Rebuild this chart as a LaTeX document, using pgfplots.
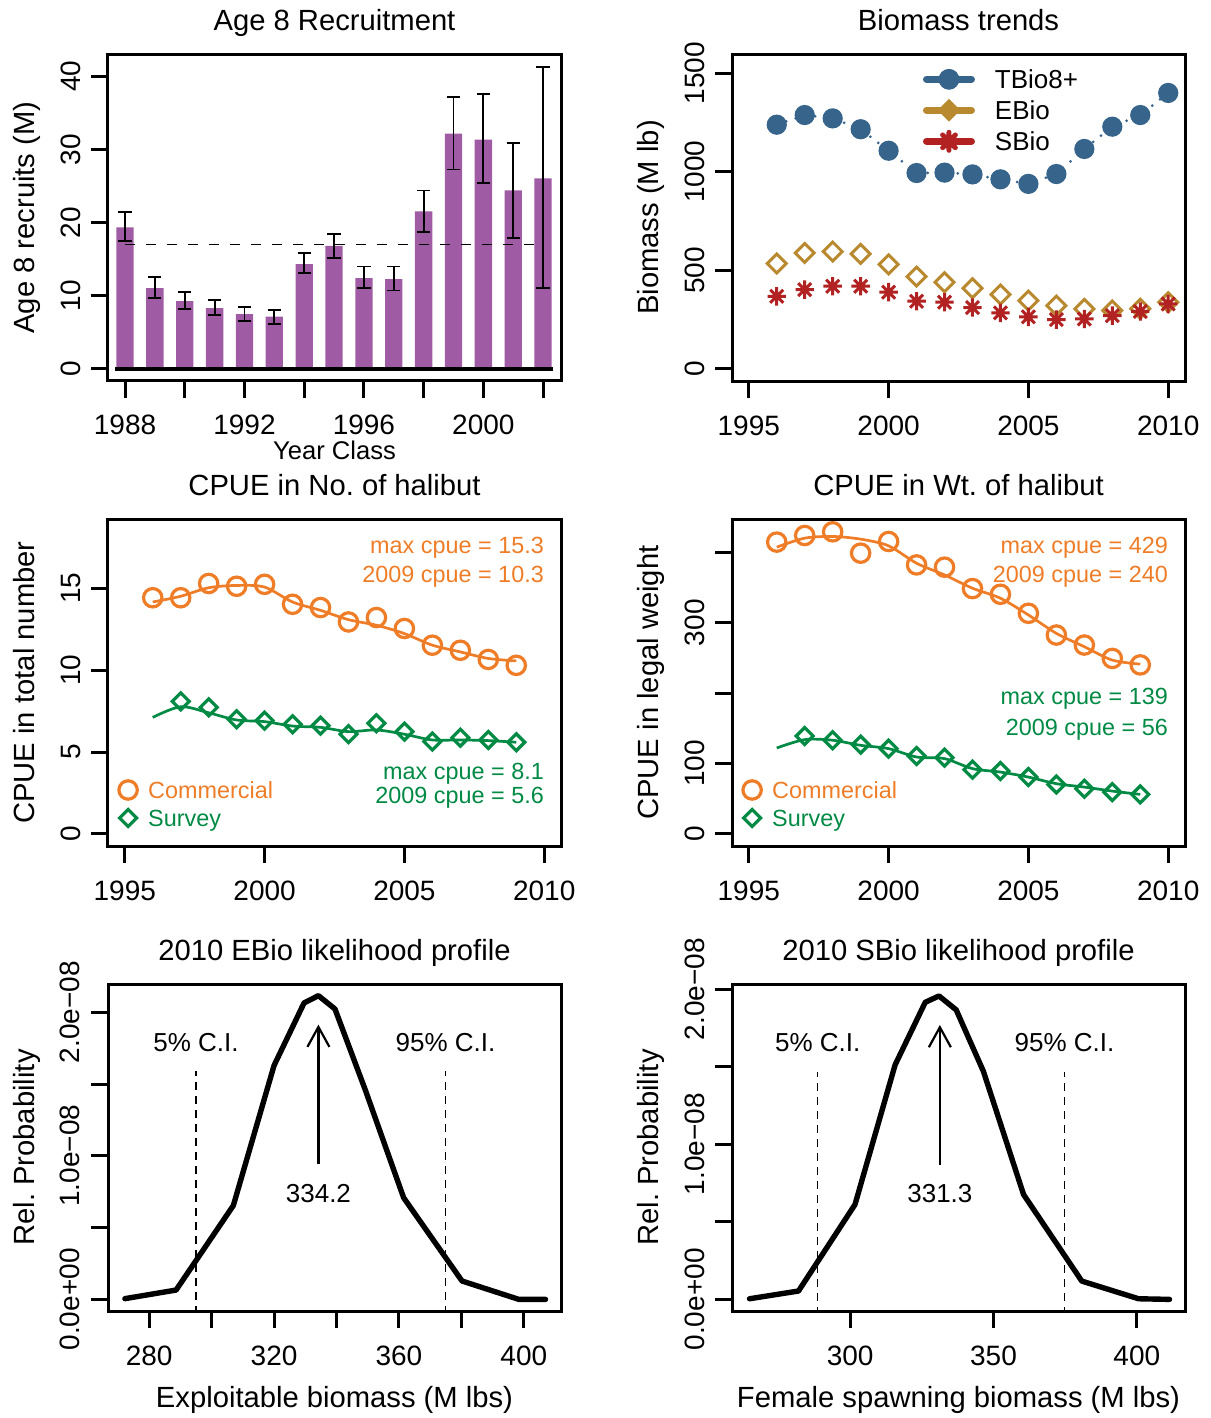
\documentclass[border=0pt]{standalone}
\usepackage{fontspec}
\setmainfont{Liberation Sans}
\usepackage{pgfplots}
\pgfplotsset{compat=1.18}
\usetikzlibrary{arrows.meta}
\frenchspacing

\definecolor{barcol}{HTML}{9F5BA4}
\definecolor{tbio}{HTML}{36648B}
\definecolor{ebio}{HTML}{B8892F}
\definecolor{sbio}{HTML}{B22222}
\definecolor{comm}{HTML}{EF7D27}
\definecolor{surv}{HTML}{008A44}

% R's pch=8: a + and an x on top of each other
\pgfdeclareplotmark{rstar}{%
  \pgfpathmoveto{\pgfqpoint{-\pgfplotmarksize}{0pt}}\pgfpathlineto{\pgfqpoint{\pgfplotmarksize}{0pt}}%
  \pgfpathmoveto{\pgfqpoint{0pt}{-\pgfplotmarksize}}\pgfpathlineto{\pgfqpoint{0pt}{\pgfplotmarksize}}%
  \pgfpathmoveto{\pgfqpoint{-.7071\pgfplotmarksize}{-.7071\pgfplotmarksize}}\pgfpathlineto{\pgfqpoint{.7071\pgfplotmarksize}{.7071\pgfplotmarksize}}%
  \pgfpathmoveto{\pgfqpoint{-.7071\pgfplotmarksize}{.7071\pgfplotmarksize}}\pgfpathlineto{\pgfqpoint{.7071\pgfplotmarksize}{-.7071\pgfplotmarksize}}%
  \pgfusepathqstroke}

\tikzset{
  cpuetxt/.style={anchor=base east, inner sep=0pt, font=\fontsize{11.7}{14}\selectfont},
  proftxt/.style={anchor=base, inner sep=0pt, font=\fontsize{13}{15}\selectfont},
}

\pgfplotsset{
  rbase/.style={
    scale only axis, width=226.5pt, height=163.5pt, anchor=north west,
    axis line style={line width=1.5pt},
    tick style={black, line width=1.5pt},
    tick align=outside, major tick length=8.5pt,
    xtick pos=left, ytick pos=left,
    tick label style={font=\fontsize{14}{16}\selectfont},
    xticklabel style={anchor=base},
    yticklabel style={rotate=90, anchor=base},
    xticklabel shift=18.5pt, yticklabel shift=5.5pt,
    title style={font=\fontsize{14.6}{17}\selectfont, at={(axis description cs:0.5,1)}, anchor=base, yshift=5.75pt},
    label style={font=\fontsize{14.6}{17}\selectfont},
    ylabel style={at={(axis description cs:-0.1623,0.5)}, anchor=base},
    xlabel style={at={(axis description cs:0.5,-0.2936)}, anchor=base},
  },
  cpueleg/.style={
    legend cell align=left,
    legend style={at={(axis description cs:0.0241,0.208)}, anchor=north west, draw=none, fill=none,
      inner sep=0pt, outer sep=0pt, font=\fontsize{11.7}{14}\selectfont, row sep=2pt, column sep=5.45pt,
      nodes={inner sep=0pt, text height=10.2pt, text depth=1.8pt}},
    legend image code/.code={\draw[##1] plot coordinates {(0pt,0pt)};},
  },
}

\begin{document}
\begin{tikzpicture}
\path[use as bounding box] (0,0) rectangle (605pt,-709pt);

% ---------------- Age 8 recruitment
\begin{axis}[rbase, at={(54pt,-27pt)},
  xmin=1987.43, xmax=2002.6, ymin=-1.66, ymax=43.06,
  xtick={1988,1990,...,2002}, xticklabels={1988,,1992,,1996,,2000,},
  ytick={0,10,20,30,40}, yticklabels={0,10,20,30,40},
  title={Age 8 Recruitment}, ylabel={Age 8 recruits (M)}, xlabel={Year Class},
  xlabel style={font=\fontsize{12.8}{15}\selectfont, at={(axis description cs:0.5,-0.2416)}}]
\addplot[ybar, bar width=8.65pt, fill=barcol, draw=none,
  error bars/.cd, y dir=both, y explicit,
  error bar style={draw=black, line width=0.9pt},
  error mark options={rotate=90, draw=black, line width=0.9pt, mark size=3.3pt}]
coordinates {
  (1988,19.36) += (0,2.04) -= (0,1.91)
  (1989,11.05) += (0,1.50) -= (0,1.41)
  (1990,9.27)  += (0,1.28) -= (0,1.04)
  (1991,8.32)  += (0,1.13) -= (0,0.91)
  (1992,7.50)  += (0,0.91) -= (0,0.91)
  (1993,7.14)  += (0,0.86) -= (0,0.96)
  (1994,14.32) += (0,1.50) -= (0,1.23)
  (1995,16.82) += (0,1.59) -= (0,1.64)
  (1996,12.41) += (0,1.59) -= (0,1.36)
  (1997,12.27) += (0,1.73) -= (0,1.54)
  (1998,21.55) += (0,2.85) -= (0,2.82)
  (1999,32.18) += (0,4.96) -= (0,4.91)
  (2000,31.36) += (0,6.19) -= (0,5.91)
  (2001,24.41) += (0,6.49) -= (0,6.51)
  (2002,26.05) += (0,15.25) -= (0,15.00)
};
\addplot[black, line width=0.6pt, dash pattern=on 5pt off 5.5pt] coordinates {(1988,17) (2002,17)};
\addplot[black, line width=1.7pt] coordinates {(1987.67,0) (2002.33,0)};
\end{axis}

% ---------------- Biomass trends
\begin{axis}[rbase, at={(366pt,-27pt)},
  xmin=1994.4, xmax=2010.6, ymin=-61.4, ymax=1596.4,
  xtick={1995,2000,2005,2010}, xticklabels={1995,2000,2005,2010},
  ytick={0,500,1000,1500}, yticklabels={0,500,1000,1500},
  title={Biomass trends}, ylabel={Biomass (M lb)},
  legend cell align=left,
  legend style={at={(axis description cs:0.4216,0.9593)}, anchor=north west, draw=none, fill=none,
    inner sep=0pt, outer sep=0pt, font=\fontsize{13}{15}\selectfont, row sep=3.5pt, column sep=10pt,
    nodes={inner sep=0pt, text height=10.65pt, text depth=1.35pt}},
  legend image code/.code={\draw[#1, mark repeat=2, mark phase=2, line cap=round]
    plot coordinates {(0pt,0pt) (11.25pt,0pt) (22.5pt,0pt)};}]
\addlegendimage{tbio, line width=3.5pt, mark=*, mark size=5pt, mark options={line width=0.4pt}}
\addlegendentry{TBio8+}
\addlegendimage{ebio, line width=3.5pt, mark=square*, mark size=3.8pt, mark options={rotate=45, line width=0.4pt}}
\addlegendentry{EBio}
\addlegendimage{sbio, line width=3.5pt, mark=rstar, mark size=4.5pt, mark options={line width=2.5pt}}
\addlegendentry{SBio}
\addplot[tbio, line width=1.5pt, line cap=round, dash pattern=on 0pt off 5pt,
  mark=*, mark size=4.3pt, mark options={solid, draw=none, fill=tbio}, forget plot]
coordinates {(1996,1238) (1997,1287) (1998,1270) (1999,1215) (2000,1106) (2001,993) (2002,995)
  (2003,986) (2004,961) (2005,938) (2006,988) (2007,1115) (2008,1228) (2009,1287) (2010,1399)};
\addplot[ebio, only marks, mark=square, mark size=3.35pt, mark options={rotate=45, line width=1.5pt}, forget plot]
coordinates {(1996,534) (1997,588) (1998,595) (1999,583) (2000,530) (2001,468) (2002,439)
  (2003,409) (2004,377) (2005,346) (2006,321) (2007,304) (2008,296) (2009,305) (2010,338)};
\addplot[sbio, only marks, mark=rstar, mark size=4.6pt, mark options={line width=1.5pt}, forget plot]
coordinates {(1996,368) (1997,402) (1998,419) (1999,419) (2000,389) (2001,343) (2002,338)
  (2003,311) (2004,284) (2005,264) (2006,250) (2007,253) (2008,270) (2009,291) (2010,329)};
\end{axis}

% ---------------- CPUE in number
\begin{axis}[rbase, cpueleg, at={(54pt,-259.5pt)},
  xmin=1994.4, xmax=2010.6, ymin=-0.74, ymax=19.24,
  xtick={1995,2000,2005,2010}, xticklabels={1995,2000,2005,2010},
  ytick={0,5,10,15}, yticklabels={0,5,10,15},
  title={CPUE in No. of halibut}, ylabel={CPUE in total number}]
\addplot[comm, only marks, mark=o, mark size=4.6pt, mark options={line width=1.6pt}]
coordinates {(1996,14.43) (1997,14.43) (1998,15.3) (1999,15.13) (2000,15.25) (2001,14.03) (2002,13.83)
  (2003,12.95) (2004,13.22) (2005,12.55) (2006,11.53) (2007,11.22) (2008,10.66) (2009,10.3)};
\addlegendentry{\textcolor{comm}{Commercial}}
\addplot[comm, line width=1.35pt, smooth, forget plot]
coordinates {(1996,14.17) (1997,14.52) (1998,15.04) (1999,15.18) (2000,15.08) (2001,14.17) (2002,13.66)
  (2003,13.09) (2004,12.75) (2005,12.24) (2006,11.53) (2007,11.12) (2008,10.72) (2009,10.57)};
\addplot[surv, only marks, mark=square, mark size=3pt, mark options={rotate=45, line width=1.6pt}]
coordinates {(1997,8.1) (1998,7.73) (1999,7.0) (2000,6.92) (2001,6.7) (2002,6.61) (2003,6.1)
  (2004,6.76) (2005,6.25) (2006,5.64) (2007,5.88) (2008,5.74) (2009,5.6)};
\addlegendentry{\textcolor{surv}{Survey}}
\addplot[surv, line width=1.35pt, smooth, forget plot]
coordinates {(1996,7.12) (1997,7.77) (1998,7.4) (1999,6.96) (2000,6.86) (2001,6.59) (2002,6.51)
  (2003,6.25) (2004,6.35) (2005,6.09) (2006,5.74) (2007,5.74) (2008,5.7) (2009,5.6)};
\node[cpuetxt, text=comm] at (axis cs:2010,17.12) {max cpue = 15.3};
\node[cpuetxt, text=comm] at (axis cs:2010,15.35) {2009 cpue = 10.3};
\node[cpuetxt, text=surv] at (axis cs:2010,3.30) {max cpue = 8.1};
\node[cpuetxt, text=surv] at (axis cs:2010,1.88) {2009 cpue = 5.6};
\end{axis}

% ---------------- CPUE in weight
\begin{axis}[rbase, cpueleg, at={(366pt,-259.5pt)},
  xmin=1994.4, xmax=2010.6, ymin=-17.2, ymax=447.2,
  xtick={1995,2000,2005,2010}, xticklabels={1995,2000,2005,2010},
  ytick={0,100,200,300,400}, yticklabels={0,100,,300,},
  title={CPUE in Wt. of halibut}, ylabel={CPUE in legal weight}]
\addplot[comm, only marks, mark=o, mark size=4.6pt, mark options={line width=1.6pt}]
coordinates {(1996,414.4) (1997,423.8) (1998,429) (1999,398.7) (2000,415.3) (2001,382) (2002,378.8)
  (2003,348.4) (2004,340.3) (2005,313.3) (2006,282.4) (2007,268.2) (2008,249.2) (2009,240)};
\addlegendentry{\textcolor{comm}{Commercial}}
\addplot[comm, line width=1.35pt, smooth, forget plot]
coordinates {(1996,407.2) (1997,420) (1998,422.4) (1999,418.6) (2000,409.1) (2001,384.4) (2002,367.8)
  (2003,348.9) (2004,334.7) (2005,310.9) (2006,284.8) (2007,265.8) (2008,246.8) (2009,241.1)};
\addplot[surv, only marks, mark=square, mark size=3pt, mark options={rotate=45, line width=1.6pt}]
coordinates {(1997,139) (1998,133) (1999,126.8) (2000,121.1) (2001,110.6) (2002,108.3) (2003,91.2)
  (2004,89.3) (2005,80.7) (2006,70.3) (2007,64.2) (2008,59.4) (2009,56)};
\addlegendentry{\textcolor{surv}{Survey}}
\addplot[surv, line width=1.35pt, smooth, forget plot]
coordinates {(1996,122) (1997,133.9) (1998,133) (1999,125.8) (2000,121.1) (2001,109.2) (2002,106.9)
  (2003,92.7) (2004,87.8) (2005,80.7) (2006,71.3) (2007,66.5) (2008,60.8) (2009,56.1)};
\node[cpuetxt, text=comm] at (axis cs:2010,398.7) {max cpue = 429};
\node[cpuetxt, text=comm] at (axis cs:2010,356.9) {2009 cpue = 240};
\node[cpuetxt, text=surv] at (axis cs:2010,184.2) {max cpue = 139};
\node[cpuetxt, text=surv] at (axis cs:2010,140.1) {2009 cpue = 56};
\end{axis}

% ---------------- EBio profile
\begin{axis}[rbase, at={(54pt,-492pt)},
  xmin=266.8, xmax=411.9, ymin=-0.081, ymax=2.197,
  xtick={280,300,...,400}, xticklabels={280,,320,,360,,400},
  ytick={0,0.5,1,1.5,2}, yticklabels={0.0e+00,,1.0e−08,,2.0e−08},
  title={2010 EBio likelihood profile}, ylabel={Rel. Probability}, xlabel={Exploitable biomass (M lbs)}]
\addplot[black, line width=2.7pt, line join=round, line cap=round]
coordinates {(272.2,0.005) (288.6,0.065) (306.95,0.654) (320.0,1.63) (329.6,2.065) (334.2,2.116)
  (339.5,2.023) (349.2,1.46) (361.5,0.708) (380.2,0.128) (398.4,0.0) (406.95,0.0)};
\addplot[black, line width=0.7pt, dash pattern=on 4pt off 3pt] coordinates {(295,-0.1) (295,1.589)};
\addplot[black, line width=0.7pt, dash pattern=on 4pt off 3pt] coordinates {(374.9,-0.1) (374.9,1.589)};
\addplot[black, line width=1.1pt, -{Straight Barb[length=10pt, width=11pt]}] coordinates {(334.2,0.94) (334.2,1.914)};
\node[proftxt] at (axis cs:295,1.728) {5\% C.I.};
\node[proftxt] at (axis cs:374.9,1.728) {95\% C.I.};
\node[proftxt] at (axis cs:334.2,0.673) {334.2};
\end{axis}

% ---------------- SBio profile
\begin{axis}[rbase, at={(366pt,-492pt)},
  xmin=258.8, xmax=416.8, ymin=-0.075, ymax=2.034,
  xtick={300,350,400}, xticklabels={300,350,400},
  ytick={0,0.5,1,1.5,2}, yticklabels={0.0e+00,,1.0e−08,,2.0e−08},
  title={2010 SBio likelihood profile}, ylabel={Rel. Probability}, xlabel={Female spawning biomass (M lbs)}]
\addplot[black, line width=2.7pt, line join=round, line cap=round]
coordinates {(264.9,0.004) (282.0,0.054) (301.7,0.612) (315.7,1.513) (326.2,1.916) (331.0,1.957)
  (337.0,1.867) (346.5,1.47) (360.5,0.676) (380.8,0.118) (400.6,0.004) (411.4,0.0)};
\addplot[black, line width=0.7pt, dash pattern=on 4pt off 3pt] coordinates {(288.7,-0.1) (288.7,1.469)};
\addplot[black, line width=0.7pt, dash pattern=on 4pt off 3pt] coordinates {(374.8,-0.1) (374.8,1.469)};
\addplot[black, line width=1.1pt, -{Straight Barb[length=10pt, width=11pt]}] coordinates {(331.3,0.869) (331.3,1.77)};
\node[proftxt] at (axis cs:288.7,1.598) {5\% C.I.};
\node[proftxt] at (axis cs:374.8,1.598) {95\% C.I.};
\node[proftxt] at (axis cs:331.3,0.622) {331.3};
\end{axis}
\end{tikzpicture}
\end{document}
